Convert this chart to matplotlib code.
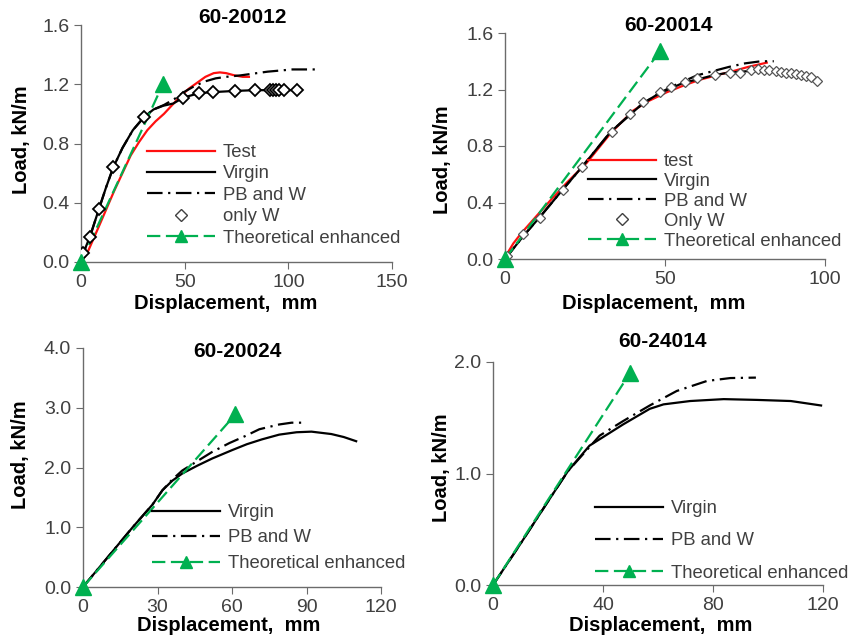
import matplotlib
matplotlib.use("Agg")
import matplotlib.pyplot as plt
from matplotlib.lines import Line2D

plt.rcParams['font.family'] = ['Liberation Sans', 'DejaVu Sans']

# ---------------- data: 60-20012 ----------------
a_test_x = [0, 3, 8, 16, 24, 28, 32, 36, 40, 44, 48, 52, 56, 60, 64, 67, 70, 74, 78, 81]
a_test_y = [0, 0.06, 0.22, 0.48, 0.72, 0.81, 0.89, 0.95, 1.00, 1.06, 1.12, 1.17, 1.21, 1.25, 1.275, 1.28, 1.275, 1.26, 1.25, 1.25]
a_virgin_x = [0, 1.1, 4.3, 8.7, 12, 15.6, 20, 25, 30.5, 35, 39.7, 44.5, 49.4, 57, 63.8, 74.3, 83.9, 91.2, 104]
a_virgin_y = [0, 0.06, 0.17, 0.36, 0.50, 0.64, 0.77, 0.89, 0.98, 1.03, 1.055, 1.07, 1.11, 1.14, 1.147, 1.155, 1.16, 1.16, 1.16]
a_pbw_x = [0, 1.1, 4.3, 8.7, 12, 15.6, 20, 25, 30.5, 35, 40, 45, 50, 55, 60, 65, 70, 77, 90, 102, 115]
a_pbw_y = [0, 0.06, 0.17, 0.36, 0.50, 0.64, 0.77, 0.89, 0.98, 1.03, 1.06, 1.10, 1.15, 1.19, 1.22, 1.24, 1.25, 1.26, 1.285, 1.30, 1.30]
a_onlyw_x = [1.1, 4.3, 8.7, 15.6, 30.5, 49.4, 57, 63.8, 74.3, 83.9, 91.2, 92.7, 93.9, 95.5, 98, 104]
a_onlyw_y = [0.06, 0.17, 0.36, 0.64, 0.98, 1.11, 1.14, 1.147, 1.155, 1.16, 1.16, 1.16, 1.16, 1.16, 1.16, 1.16]
a_theo_x = [0, 39.5]
a_theo_y = [0, 1.20]

# ---------------- data: 60-20014 ----------------
b_test_x = [0, 1, 2.6, 5, 8.9, 14, 19.3, 25.5, 33, 40, 45, 50.5, 56, 61, 66, 71.3, 76, 81.8]
b_test_y = [0, 0.05, 0.11, 0.18, 0.28, 0.41, 0.54, 0.68, 0.89, 1.05, 1.12, 1.18, 1.23, 1.27, 1.30, 1.33, 1.36, 1.39]
b_virgin_x = [0, 6, 11, 18, 24, 33, 39, 43, 48, 52, 56, 60, 65, 70, 76, 82, 87, 92, 95, 97.5]
b_virgin_y = [0, 0.17, 0.30, 0.49, 0.65, 0.90, 1.02, 1.10, 1.17, 1.21, 1.25, 1.27, 1.30, 1.32, 1.33, 1.33, 1.32, 1.30, 1.28, 1.26]
b_pbw_x = [0, 6, 11, 18, 24, 33, 39, 43, 48, 52, 55, 60, 65, 70, 75, 80, 84]
b_pbw_y = [0, 0.17, 0.30, 0.49, 0.65, 0.90, 1.02, 1.10, 1.17, 1.22, 1.25, 1.30, 1.33, 1.36, 1.385, 1.40, 1.40]
b_onlyw_x = [0.5, 5.7, 10.9, 18.2, 24, 33.3, 39.1, 43.2, 48.4, 52, 56.2, 59.9, 65.6, 70.3, 73.4, 77, 79,
             81, 82.6, 84.7, 86.2, 87.8, 89.3, 90.9, 92.5, 94, 95.6, 97.6]
b_onlyw_y = [0.02, 0.18, 0.29, 0.49, 0.65, 0.90, 1.03, 1.11, 1.18, 1.22, 1.25, 1.28, 1.30, 1.32, 1.315, 1.34, 1.345,
             1.34, 1.335, 1.33, 1.325, 1.32, 1.315, 1.31, 1.30, 1.295, 1.285, 1.26]
b_theo_x = [0, 48.4]
b_theo_y = [0, 1.47]

# ---------------- data: 60-20024 ----------------
c_virgin_x = [0, 10, 20, 28, 32, 36, 40, 46, 52, 60, 66, 72, 79, 86, 92, 100, 105, 110]
c_virgin_y = [0, 0.5, 1.0, 1.38, 1.62, 1.78, 1.90, 2.03, 2.15, 2.29, 2.39, 2.47, 2.55, 2.59, 2.60, 2.56, 2.51, 2.44]
c_pbw_x = [0, 10, 20, 28, 32, 36, 40, 45, 52, 59, 65, 71, 79, 84, 89.5]
c_pbw_y = [0, 0.5, 1.0, 1.38, 1.62, 1.80, 1.95, 2.08, 2.26, 2.41, 2.52, 2.64, 2.72, 2.75, 2.75]
c_theo_x = [0, 61.4]
c_theo_y = [0, 2.89]

# ---------------- data: 60-24014 ----------------
d_virgin_x = [0, 10, 20, 27.2, 35.1, 47.3, 57, 62, 71.7, 83.9, 96, 108.3, 119.3]
d_virgin_y = [0, 0.37, 0.75, 1.02, 1.25, 1.44, 1.58, 1.62, 1.65, 1.667, 1.66, 1.65, 1.61]
d_pbw_x = [0, 10, 20, 27.2, 38.8, 47.3, 57, 66.8, 77.8, 86.3, 95.6]
d_pbw_y = [0, 0.37, 0.75, 1.02, 1.34, 1.47, 1.61, 1.74, 1.83, 1.856, 1.86]
d_theo_x = [0, 49.8]
d_theo_y = [0, 1.90]

W, H = 852, 636
GREEN = '#00B050'
RED = '#FF1010'
SPINE = '#6b6b6b'
TXT = '#404040'
DASHDOT = (7, 2.5, 1, 2.5)
DASHED = (6, 2.5)

fig = plt.figure(figsize=(W / 100, H / 100), dpi=100)


def make_ax(l, r, b, t):
    # pixel box -> figure fractions
    ax = fig.add_axes([l / W, 1 - b / H, (r - l) / W, (b - t) / H])
    for s in ['top', 'right']:
        ax.spines[s].set_visible(False)
    for s in ['left', 'bottom']:
        ax.spines[s].set_color(SPINE)
        ax.spines[s].set_linewidth(1.0)
    ax.tick_params(direction='out', length=5, color=SPINE, labelsize=14, labelcolor=TXT)
    return ax


def style(ax, title, tpos, xl, yl, xticks, yticks, fmt):
    ax.set_xlim(xticks[0], xticks[-1])
    ax.set_ylim(yticks[0], yticks[-1])
    ax.set_xticks(xticks)
    ax.set_yticks(yticks)
    ax.set_yticklabels([fmt.format(v) for v in yticks])
    ax.text(tpos[0], tpos[1], title, transform=ax.transAxes, ha='center', va='center',
            fontsize=15, fontweight='bold')
    ax.set_xlabel('Displacement,  mm', fontsize=14.5, fontweight='bold')
    ax.xaxis.set_label_coords(*xl)
    ax.xaxis.label.set_va('center')
    ax.set_ylabel('Load, kN/m', fontsize=14.5, fontweight='bold')
    ax.yaxis.set_label_coords(*yl)
    ax.yaxis.label.set_va('center')


def theo(ax, x, y):
    ax.plot(x, y, color=GREEN, lw=1.6, dashes=DASHED, zorder=4)
    ax.plot(x, y, ls='none', marker='^', ms=11, color=GREEN, clip_on=False, zorder=6)


def legend(ax, handles, labels, x, y, spacing):
    ax.legend(handles, labels, loc='upper left', bbox_to_anchor=(x / W, 1 - y / H),
              bbox_transform=fig.transFigure, frameon=False, borderpad=0, borderaxespad=0,
              handlelength=3.7, handletextpad=0.4, labelspacing=spacing, fontsize=13.3,
              labelcolor=TXT, numpoints=1)


h_test = Line2D([], [], color=RED, lw=1.6)
h_virgin = Line2D([], [], color='black', lw=1.6)
h_pbw = Line2D([], [], color='black', lw=1.6, dashes=DASHDOT)
h_theo = Line2D([], [], color=GREEN, lw=1.6, dashes=DASHED, marker='^', ms=9)

# ---- panel 1 ----
ax1 = make_ax(81, 392, 262, 25)
ax1.plot(a_test_x, a_test_y, color=RED, lw=1.6, zorder=3)
ax1.plot(a_virgin_x, a_virgin_y, color='black', lw=1.6, zorder=3)
ax1.plot(a_pbw_x, a_pbw_y, color='black', lw=1.6, dashes=DASHDOT, zorder=3)
ax1.plot(a_onlyw_x, a_onlyw_y, ls='none', marker='D', ms=6.5, mfc='white', mec='black', mew=1.3, zorder=5)
theo(ax1, a_theo_x, a_theo_y)
style(ax1, '60-20012', (0.518, 1.03), (0.466, -0.173), (-0.19, 0.515),
      [0, 50, 100, 150], [0, 0.4, 0.8, 1.2, 1.6], '{:.1f}')
h_w1 = Line2D([], [], ls='none', marker='D', ms=6.5, mfc='white', mec='#404040', mew=1.0)
legend(ax1, [h_test, h_virgin, h_pbw, h_w1, h_theo],
       ['Test', 'Virgin', 'PB and W', 'only W', 'Theoretical enhanced'], 147, 144, 0.24)

# ---- panel 2 ----
ax2 = make_ax(505, 825, 259, 33)
ax2.plot(b_test_x, b_test_y, color=RED, lw=1.6, zorder=3)
ax2.plot(b_virgin_x, b_virgin_y, color='black', lw=1.6, zorder=3)
ax2.plot(b_pbw_x, b_pbw_y, color='black', lw=1.6, dashes=DASHDOT, zorder=3)
ax2.plot(b_onlyw_x, b_onlyw_y, ls='none', marker='D', ms=5.5, mfc='white', mec='#555555', mew=0.9, zorder=5)
theo(ax2, b_theo_x, b_theo_y)
style(ax2, '60-20014', (0.51, 1.031), (0.466, -0.195), (-0.194, 0.438),
      [0, 50, 100], [0, 0.4, 0.8, 1.2, 1.6], '{:.1f}')
h_w2 = Line2D([], [], ls='none', marker='D', ms=6.5, mfc='white', mec='#404040', mew=1.0)
legend(ax2, [h_test, h_virgin, h_pbw, h_w2, h_theo],
       ['test', 'Virgin', 'PB and W', 'Only W', 'Theoretical enhanced'], 588, 153, 0.16)

# ---- panel 3 ----
ax3 = make_ax(83, 381, 587, 348)
ax3.plot(c_virgin_x, c_virgin_y, color='black', lw=1.6, zorder=3)
ax3.plot(c_pbw_x, c_pbw_y, color='black', lw=1.6, dashes=DASHDOT, zorder=3)
theo(ax3, c_theo_x, c_theo_y)
style(ax3, '60-20024', (0.517, 0.987), (0.49, -0.16), (-0.211, 0.552),
      [0, 30, 60, 90, 120], [0, 1, 2, 3, 4], '{:.1f}')
legend(ax3, [h_virgin, h_pbw, h_theo], ['Virgin', 'PB and W', 'Theoretical enhanced'], 152, 504, 0.46)

# ---- panel 4 ----
ax4 = make_ax(493, 823, 585, 362)
ax4.plot(d_virgin_x, d_virgin_y, color='black', lw=1.6, zorder=3)
ax4.plot(d_pbw_x, d_pbw_y, color='black', lw=1.6, dashes=DASHDOT, zorder=3)
theo(ax4, d_theo_x, d_theo_y)
style(ax4, '60-24014', (0.515, 1.09), (0.509, -0.18), (-0.155, 0.525),
      [0, 40, 80, 120], [0, 1, 2], '{:.1f}')
legend(ax4, [h_virgin, h_pbw, h_theo], ['Virgin', 'PB and W', 'Theoretical enhanced'], 595, 500, 0.83)

fig.savefig('out.png', dpi=100)
